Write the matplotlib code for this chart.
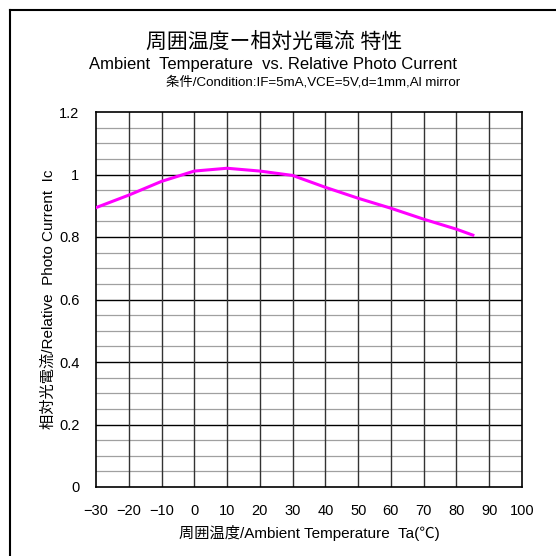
import numpy as np
import matplotlib
matplotlib.use("Agg")
import matplotlib.pyplot as plt
from matplotlib.lines import Line2D

plt.rcParams['font.family'] = ['Liberation Sans', 'Noto Sans CJK JP', 'DejaVu Sans']

temp = [-30, -20, -10, 0, 10, 20, 30, 40, 50, 60, 70, 80, 85]
rel_current = [0.894, 0.934, 0.978, 1.011, 1.020, 1.011, 0.997, 0.959, 0.924,
               0.892, 0.857, 0.825, 0.806]

x_ticks = list(range(-30, 101, 10))
y_ticks = [0, 0.2, 0.4, 0.6, 0.8, 1, 1.2]
y_tick_labels = ['0', '0.2', '0.4', '0.6', '0.8', '1', '1.2']

fig = plt.figure(figsize=(5.56, 5.56), dpi=100)
W, H = 556, 556
ax = fig.add_axes([96 / W, 1 - 487 / H, (522 - 96) / W, (487 - 112) / H])

# grid: minor every 0.05 grey, major every 0.2 black
for y in np.arange(0.05, 1.2, 0.05):
    if abs(y / 0.2 - round(y / 0.2)) > 1e-6:
        ax.axhline(y, color='#a0a0a0', lw=0.9, zorder=1)
for y in y_ticks[1:-1]:
    ax.axhline(y, color='black', lw=1.0, zorder=1)
for x in x_ticks[1:-1]:
    ax.axvline(x, color='#333333', lw=1.0, zorder=1)

ax.plot(temp, rel_current, color='#ff00ff', lw=2.2, zorder=3)

ax.set_xlim(-30, 100)
ax.set_ylim(0, 1.2)
ax.set_xticks(x_ticks)
ax.set_xticklabels([str(v).replace('-', '\u2212') for v in x_ticks], fontsize=10.5)
ax.set_yticks(y_ticks)
ax.set_yticklabels(y_tick_labels, fontsize=10.5)
ax.tick_params(axis='x', length=0, pad=12)
ax.tick_params(axis='y', length=0, pad=12)
for s in ax.spines.values():
    s.set_linewidth(1.2)

ax.set_xlabel('周囲温度/Ambient Temperature  Ta(℃)', fontsize=11, labelpad=5)
ax.set_ylabel('相対光電流/Relative  Photo Current  Ic', fontsize=11, labelpad=2)

fig.text(274 / W, 1 - 42 / H, '周囲温度ー相対光電流 特性', ha='center', va='center', fontsize=15)
fig.text(273 / W, 1 - 64 / H, 'Ambient  Temperature  vs. Relative Photo Current',
         ha='center', va='center', fontsize=12)
fig.text(460 / W, 1 - 82 / H, '条件/Condition:IF=5mA,VCE=5V,d=1mm,Al mirror',
         ha='right', va='center', fontsize=9.6)

# outer frame (top and left only)
fig.add_artist(Line2D([10 / W, 1], [1 - 10 / H, 1 - 10 / H], color='black', lw=1.5,
                      transform=fig.transFigure))
fig.add_artist(Line2D([10 / W, 10 / W], [1 - 10 / H, 0], color='black', lw=1.5,
                      transform=fig.transFigure))

fig.savefig('out.png', dpi=100)
